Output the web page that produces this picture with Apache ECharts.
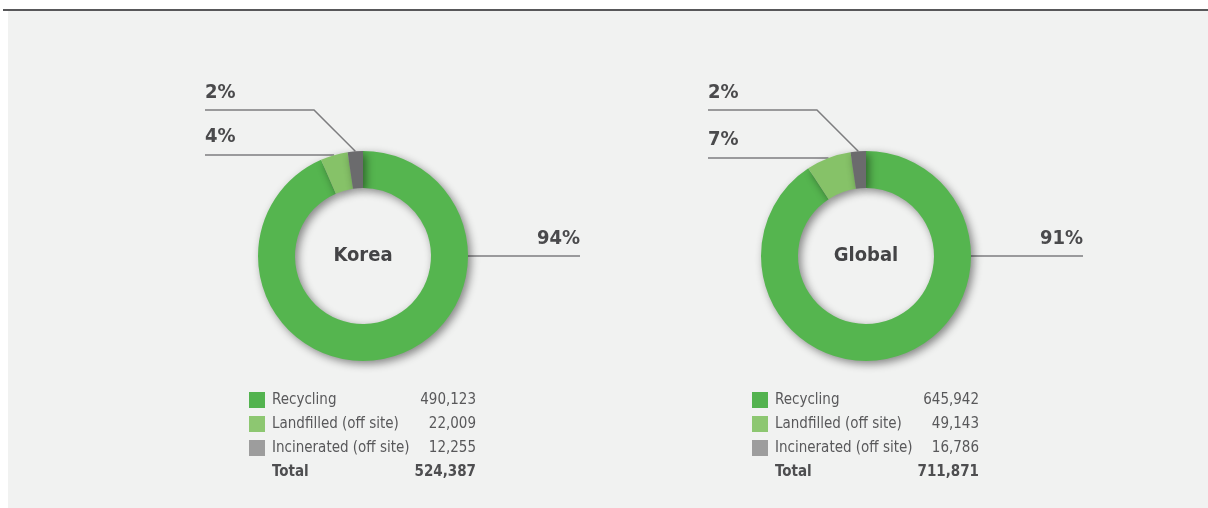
<!DOCTYPE html>
<html>
<head>
<meta charset="utf-8">
<script src="https://cdn.jsdelivr.net/npm/echarts@6/dist/echarts.min.js"></script>
<style>
  html, body { margin: 0; padding: 0; background: #ffffff; }
  #wrap { position: relative; width: 1208px; height: 508px; overflow: hidden; }
  #panel { position: absolute; left: 8px; top: 11px; right: 0; bottom: 0; background: #f1f2f1; }
  #rule { position: absolute; left: 3px; top: 9px; right: 0; height: 2px; background: #58585a; }
  #chart { position: absolute; left: 0; top: 0; width: 1208px; height: 508px; }
</style>
</head>
<body>
<div id="wrap">
  <div id="panel"></div>
  <div id="rule"></div>
  <div id="chart"></div>
</div>
<script>
// Waste disposal breakdown, Korea vs. Global
const regions = ['Korea', 'Global'];
const categories = ['Recycling', 'Landfilled (off site)', 'Incinerated (off site)'];
const koreaValues = [490123, 22009, 12255];
const globalValues = [645942, 49143, 16786];
const koreaTotal = 524387;
const globalTotal = 711871;
const koreaPercentLabels = ['94%', '4%', '2%'];
const globalPercentLabels = ['91%', '7%', '2%'];
const totalLabel = 'Total';

const sliceColors = ['#55b54f', '#86c268', '#6b6b6d'];
const keyColors = ['#53b34f', '#8dc771', '#9d9d9d'];
const FONT = "'Liberation Sans Narrow', 'DejaVu Sans Condensed', 'Roboto Condensed', 'Open Sans', sans-serif";

const centers = [[363, 256], [866, 256]];
const R_IN = 68, R_OUT = 105;

const regionData = [
  { name: regions[0], values: koreaValues, total: koreaTotal, pct: koreaPercentLabels },
  { name: regions[1], values: globalValues, total: globalTotal, pct: globalPercentLabels }
];

const fmt = n => n.toLocaleString('en-US');

function makeLabelLayout(ri) {
  const [cx, cy] = centers[ri];
  const vals = regionData[ri].values;
  const sum = vals.reduce((a, b) => a + b, 0);
  return function (params) {
    const i = params.dataIndex;
    let cum = 0;
    for (let k = 0; k < i; k++) cum += vals[k];
    const midDeg = 90 - (cum + vals[i] / 2) / sum * 360;
    const rad = midDeg * Math.PI / 180;
    const edge = [cx + R_OUT * Math.cos(rad), cy - R_OUT * Math.sin(rad)];
    if (i === 0) {
      const a = [cx + R_OUT, cy];
      const e = [cx + 217, cy];
      return {
        x: e[0], y: cy - 17, align: 'right', verticalAlign: 'middle',
        labelLinePoints: [a, [(a[0] + e[0]) / 2, cy], e]
      };
    } else if (i === 1) {
      const e = [cx - 158, edge[1]];
      return {
        x: e[0], y: edge[1] - 18, align: 'left', verticalAlign: 'middle',
        labelLinePoints: [edge, [(edge[0] + e[0]) / 2, edge[1]], e]
      };
    } else {
      const elbowY = cy - 146;
      const elbow = [edge[0] - (edge[1] - elbowY), elbowY];
      const e = [cx - 158, elbowY];
      return {
        x: e[0], y: elbowY - 17, align: 'left', verticalAlign: 'middle',
        labelLinePoints: [edge, elbow, e]
      };
    }
  };
}

const series = regionData.map((r, ri) => ({
  type: 'pie',
  center: centers[ri],
  radius: [R_IN, R_OUT],
  startAngle: 90,
  clockwise: true,
  avoidLabelOverlap: false,
  silent: true,
  itemStyle: {
    borderWidth: 0,
    shadowBlur: 8,
    shadowColor: 'rgba(0,0,0,0.45)',
    shadowOffsetX: 3,
    shadowOffsetY: 3
  },
  label: {
    show: true,
    position: 'outside',
    formatter: p => r.pct[p.dataIndex],
    fontFamily: FONT,
    fontSize: 20,
    fontWeight: 'bold',
    color: '#4a4a4c'
  },
  labelLine: {
    show: true,
    smooth: false,
    lineStyle: { color: '#7d7d7f', width: 1.5 }
  },
  labelLayout: makeLabelLayout(ri),
  data: categories.map((c, i) => ({
    name: c,
    value: r.values[i],
    itemStyle: { color: sliceColors[i] }
  }))
}));

// Centre captions and the value key under each ring
const graphics = [];
regionData.forEach((r, ri) => {
  const [cx, cy] = centers[ri];
  graphics.push({
    type: 'text', x: cx, y: cy, silent: true,
    style: {
      text: r.name, fontFamily: FONT, fontSize: 20, fontWeight: 'bold',
      fill: '#444446', align: 'center', verticalAlign: 'middle'
    }
  });
  const lx = cx - 114, vx = cx + 113;
  categories.forEach((c, i) => {
    const y = cy + 144 + 24 * i;
    graphics.push({
      type: 'rect', silent: true,
      shape: { x: lx, y: y - 8, width: 16, height: 16 },
      style: { fill: keyColors[i] }
    });
    graphics.push({
      type: 'text', x: lx + 23, y: y, silent: true,
      style: { text: c, fontFamily: FONT, fontSize: 15, fill: '#58585a', align: 'left', verticalAlign: 'middle' }
    });
    graphics.push({
      type: 'text', x: vx, y: y, silent: true,
      style: { text: fmt(r.values[i]), fontFamily: FONT, fontSize: 15, fill: '#58585a', align: 'right', verticalAlign: 'middle' }
    });
  });
  const ty = cy + 144 + 24 * 3;
  graphics.push({
    type: 'text', x: lx + 23, y: ty, silent: true,
    style: { text: totalLabel, fontFamily: FONT, fontSize: 15, fontWeight: 'bold', fill: '#4e4e50', align: 'left', verticalAlign: 'middle' }
  });
  graphics.push({
    type: 'text', x: vx, y: ty, silent: true,
    style: { text: fmt(r.total), fontFamily: FONT, fontSize: 15, fontWeight: 'bold', fill: '#4e4e50', align: 'right', verticalAlign: 'middle' }
  });
});

const chart = echarts.init(document.getElementById('chart'), null, { renderer: 'canvas' });
chart.setOption({
  backgroundColor: 'transparent',
  animation: false,
  series: series,
  graphic: graphics
});
</script>
</body>
</html>
